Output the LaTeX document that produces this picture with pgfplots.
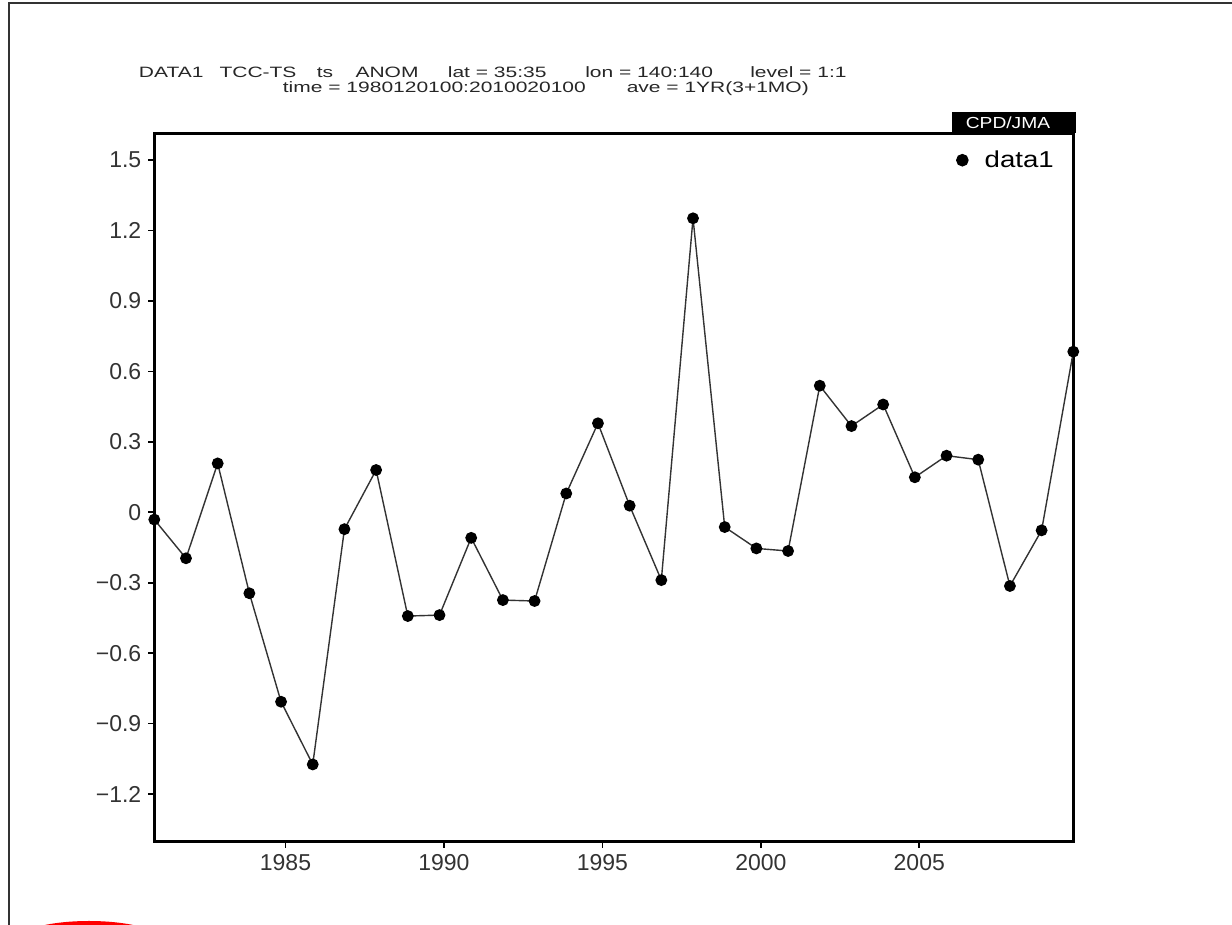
\documentclass[border=0pt]{standalone}
\usepackage{fontspec}
\setmainfont{Liberation Sans}
\newfontfamily\titlefont[FakeStretch=1.4]{Liberation Sans}
\newfontfamily\legfont[FakeStretch=1.2]{Liberation Sans}
\usepackage{pgfplots}
\pgfplotsset{compat=1.18}
\pgfplotstableread{
x y
1980.86 -0.031
1981.86 -0.196
1982.86 0.208
1983.86 -0.345
1984.86 -0.807
1985.86 -1.074
1986.86 -0.072
1987.86 0.180
1988.86 -0.442
1989.86 -0.438
1990.86 -0.109
1991.86 -0.374
1992.86 -0.378
1993.86 0.080
1994.86 0.379
1995.86 0.028
1996.86 -0.289
1997.86 1.252
1998.86 -0.063
1999.86 -0.154
2000.86 -0.165
2001.86 0.539
2002.86 0.367
2003.86 0.459
2004.86 0.149
2005.86 0.241
2006.86 0.224
2007.86 -0.314
2008.86 -0.077
2009.86 0.684
}\datatable
\begin{document}
\begin{tikzpicture}
\useasboundingbox (0,0) rectangle (616pt,462.5pt);
\clip (0,0) rectangle (616pt,462.5pt);
% outer frame
\draw[line width=1pt, black!80] (4.5pt,0) -- (4.5pt,461.15pt) -- (620pt,461.15pt);
% red annotation ellipse (cut by the page edge)
\fill[red] (44.5pt,-10pt) ellipse (40pt and 12pt);
% title
\begin{scope}[every node/.style={inner sep=0pt, anchor=base, black!85, font=\titlefont\fontsize{7.5}{9}\selectfont}]
\node at (85.6pt,423.5pt) {DATA1};
\node at (129pt,423.5pt) {TCC-TS};
\node at (162.5pt,423.5pt) {ts};
\node at (193.5pt,423.5pt) {ANOM};
\node at (248.6pt,423.5pt) {lat = 35:35};
\node at (324.6pt,423.5pt) {lon = 140:140};
\node at (399.2pt,423.5pt) {level = 1:1};
\node at (217.2pt,416.3pt) {time = 1980120100:2010020100};
\node at (358.9pt,416.3pt) {ave = 1YR(3+1MO)};
\end{scope}
\begin{axis}[
  at={(77.15pt,41.65pt)}, anchor=south west,
  scale only axis, width=459.5pt, height=354.2pt,
  xmin=1980.86, xmax=2009.86, ymin=-1.403, ymax=1.614,
  clip=false,
  axis line style={line width=1.3pt},
  tick style={line width=0.8pt, black},
  tick align=outside, major tick length=3pt,
  xtick pos=bottom, ytick pos=left,
  xtick={1985,1990,1995,2000,2005},
  xticklabels={1985,1990,1995,2000,2005},
  ytick={-1.2,-0.9,-0.6,-0.3,0,0.3,0.6,0.9,1.2,1.5},
  yticklabels={−1.2,−0.9,−0.6,−0.3,0,0.3,0.6,0.9,1.2,1.5},
  tick label style={font=\fontsize{11.5}{13}\selectfont, black!80},
  legend style={at={(0.872,0.962)}, anchor=west, draw=none, fill=none,
    font=\legfont\fontsize{11.5}{14}\selectfont, inner sep=0pt},
  legend image code/.code={\fill[black] (0pt,0pt) circle (2.8pt); \path (8.8pt,0pt);},
]
\addplot[black!80, line width=0.7pt, mark=*, mark size=2.6pt,
  mark options={fill=black, draw=black}] table[x=x, y=y] {\datatable};
\addlegendentry{data1}
\end{axis}
% CPD/JMA tag
\fill[black] (475.85pt,395.85pt) rectangle (538pt,406.65pt);
\node[white, inner sep=0pt, font=\legfont\fontsize{8}{9}\selectfont] at (504pt,401.25pt) {CPD/JMA};
\end{tikzpicture}
\end{document}
